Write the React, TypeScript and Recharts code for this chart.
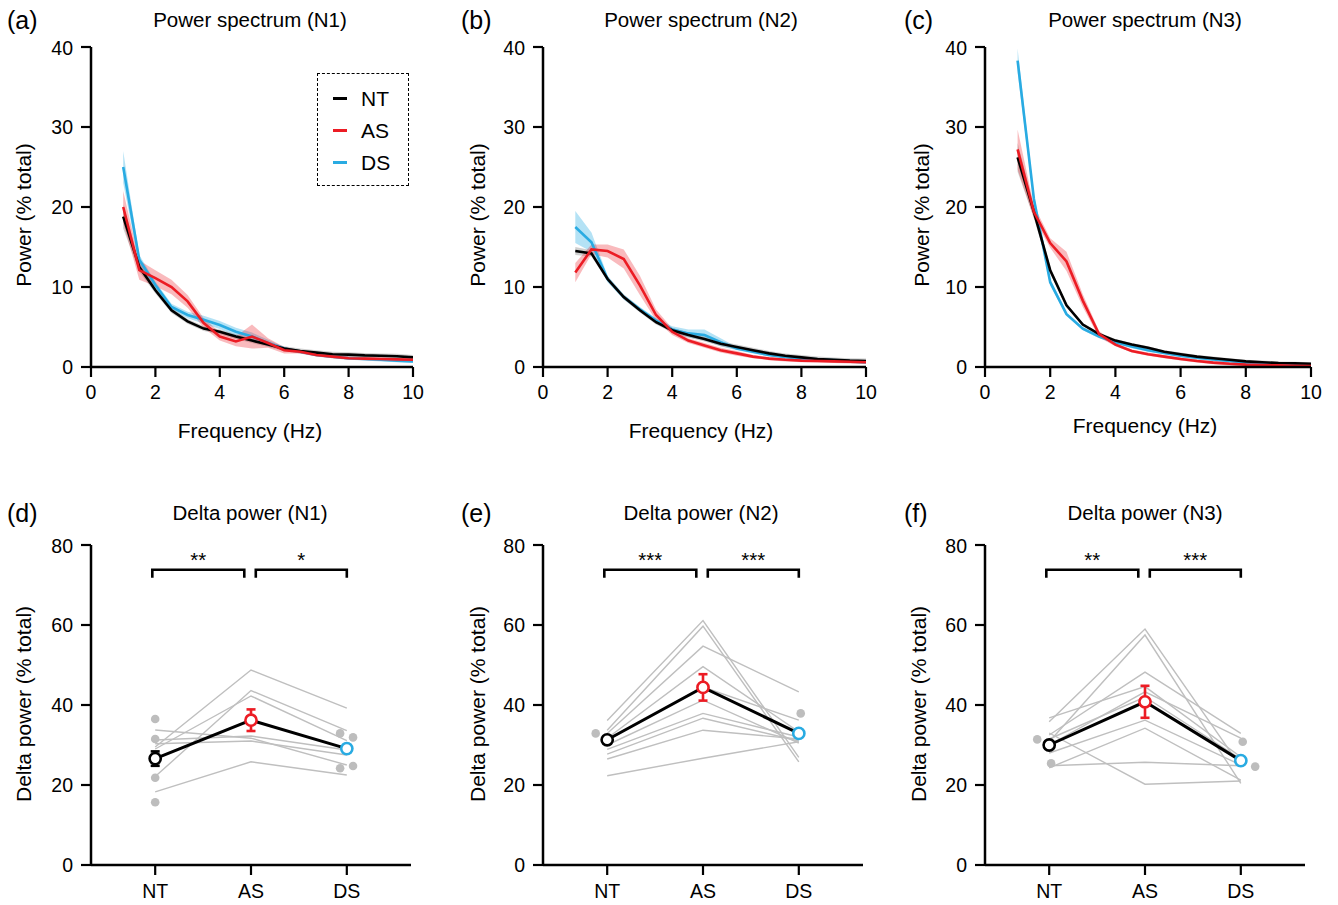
import React from 'react';
import { ComposedChart, Line, Area, XAxis, YAxis, Scatter, ErrorBar } from 'recharts';

const FONT = '"Liberation Sans", Arial, Helvetica, sans-serif';
const RED = '#ec1c24';
const BLUE = '#29abe2';
const GREY = '#bfbfbf';

// ---------- Spectrum data (frequency in Hz, power in % total) ----------
const freqHz = [1, 1.5, 2, 2.5, 3, 3.5, 4, 4.5, 5, 5.5, 6, 6.5, 7, 7.5, 8, 8.5, 9, 9.5, 10];
const freqTicks = [0, 2, 4, 6, 8, 10];
const powerTicks = [0, 10, 20, 30, 40];

const n1NT = [18.8, 12.5, 9.6, 7.1, 5.7, 4.8, 4.4, 3.8, 3.3, 2.8, 2.3, 2.0, 1.8, 1.6, 1.55, 1.45, 1.4, 1.35, 1.2];
const n1AS = [20.0, 12.1, 11.1, 10.0, 8.2, 5.5, 3.8, 3.2, 3.8, 3.0, 2.1, 1.9, 1.5, 1.3, 1.1, 1.05, 1.0, 0.95, 0.9];
const n1DS = [25.0, 13.4, 10.25, 7.5, 6.5, 5.9, 5.25, 4.4, 3.8, 3.0, 2.3, 1.9, 1.5, 1.3, 1.1, 1.0, 0.9, 0.8, 0.7];
const n1NTsem = [1.5, 0.6, 0.4, 0.35, 0.3, 0.3, 0.3, 0.3, 0.3, 0.3, 0.3, 0.3, 0.3, 0.3, 0.3, 0.3, 0.3, 0.3, 0.3];
const n1ASsem = [2.0, 1.2, 1.0, 0.9, 0.8, 0.6, 0.5, 0.6, 1.5, 0.6, 0.4, 0.2, 0.2, 0.2, 0.2, 0.2, 0.2, 0.2, 0.2];
const n1DSsem = [2.0, 0.6, 0.4, 0.4, 0.4, 0.5, 0.5, 0.5, 0.5, 0.4, 0.2, 0.2, 0.2, 0.2, 0.2, 0.2, 0.2, 0.2, 0.2];

const n2NT = [14.5, 14.2, 11.0, 8.75, 7.1, 5.6, 4.6, 4.0, 3.5, 2.9, 2.5, 2.1, 1.7, 1.4, 1.2, 1.0, 0.9, 0.8, 0.75];
const n2AS = [11.8, 14.7, 14.5, 13.5, 10.2, 6.5, 4.4, 3.3, 2.7, 2.1, 1.7, 1.3, 1.05, 0.9, 0.8, 0.75, 0.7, 0.65, 0.6];
const n2DS = [17.5, 15.6, 11.0, 8.75, 7.2, 5.8, 4.7, 4.2, 4.0, 3.1, 2.3, 1.9, 1.5, 1.25, 1.05, 0.95, 0.85, 0.7, 0.6];
const n2NTsem = [0.5, 0.4, 0.3, 0.3, 0.3, 0.3, 0.3, 0.3, 0.3, 0.3, 0.3, 0.3, 0.3, 0.3, 0.3, 0.3, 0.3, 0.3, 0.3];
const n2ASsem = [1.2, 0.6, 0.8, 1.2, 1.2, 0.7, 0.4, 0.3, 0.3, 0.3, 0.3, 0.2, 0.2, 0.2, 0.2, 0.2, 0.2, 0.2, 0.2];
const n2DSsem = [2.0, 1.2, 0.4, 0.3, 0.3, 0.3, 0.4, 0.5, 0.7, 0.5, 0.2, 0.2, 0.2, 0.2, 0.2, 0.2, 0.2, 0.2, 0.2];

const n3NT = [26.2, 19.4, 12.1, 7.7, 5.3, 4.1, 3.3, 2.8, 2.4, 1.9, 1.6, 1.3, 1.1, 0.9, 0.7, 0.6, 0.5, 0.45, 0.4];
const n3AS = [27.2, 19.4, 15.5, 13.2, 8.3, 4.1, 2.8, 2.0, 1.6, 1.3, 1.0, 0.75, 0.55, 0.4, 0.3, 0.25, 0.2, 0.15, 0.13];
const n3DS = [38.3, 21.0, 10.6, 6.6, 4.8, 3.8, 3.1, 2.55, 2.1, 1.75, 1.4, 1.15, 0.95, 0.75, 0.55, 0.45, 0.4, 0.3, 0.2];
const n3NTsem = [1.8, 0.8, 0.4, 0.2, 0.2, 0.2, 0.2, 0.2, 0.2, 0.2, 0.2, 0.2, 0.2, 0.2, 0.2, 0.2, 0.2, 0.2, 0.2];
const n3ASsem = [2.5, 0.8, 0.6, 1.2, 0.8, 0.4, 0.2, 0.2, 0.2, 0.2, 0.2, 0.2, 0.2, 0.2, 0.2, 0.2, 0.2, 0.2, 0.2];
const n3DSsem = [1.5, 0.6, 0.4, 0.2, 0.2, 0.2, 0.2, 0.2, 0.2, 0.2, 0.2, 0.2, 0.2, 0.2, 0.2, 0.2, 0.2, 0.2, 0.2];

// ---------- Delta power data ----------
const groups = ['NT', 'AS', 'DS'];
const groupPos = [1, 2, 3];
const deltaTicks = [0, 20, 40, 60, 80];

// per-subject [NT, AS, DS]
const deltaN1Subjects = [
  [29.5, 48.75, 39.2],
  [22.1, 43.6, 33.6],
  [29.0, 42.25, 31.1],
  [33.75, 31.7, 25.0],
  [31.25, 32.25, 28.75],
  [30.3, 31.0, 27.5],
  [18.3, 25.8, 22.5],
];
const deltaN2Subjects = [
  [36.1, 61.1, 26.9],
  [33.7, 59.7, 25.8],
  [32.9, 54.7, 43.3],
  [31.7, 49.6, 33.3],
  [31.2, 44.5, 36.2],
  [30.0, 41.2, 30.5],
  [28.9, 37.9, 32.0],
  [27.7, 36.7, 31.0],
  [26.5, 33.7, 31.5],
  [22.3, 26.7, 30.8],
];
const deltaN3Subjects = [
  [35.8, 59.0, 24.6],
  [30.8, 57.5, 20.4],
  [32.5, 48.2, 32.9],
  [36.8, 44.6, 27.0],
  [30.0, 43.3, 31.7],
  [31.5, 42.0, 26.5],
  [28.0, 36.2, 25.0],
  [24.3, 34.2, 21.2],
  [24.8, 25.7, 24.8],
  [33.0, 20.2, 21.0],
];

// visible individual dots: [x position, value]
const deltaN1Dots = [[1, 36.5], [1, 31.5], [1, 21.8], [1, 15.7], [2.93, 32.9], [3.065, 31.9], [2.93, 24.2], [3.065, 24.75]];
const deltaN2Dots = [[0.88, 32.9], [3.02, 37.9]];
const deltaN3Dots = [[0.875, 31.4], [1.02, 25.4], [3.02, 30.8], [3.15, 24.6]];

const deltaN1Mean = [26.6, 36.2, 29.1];
const deltaN1Sem = [1.8, 2.7, 0.9];
const deltaN2Mean = [31.3, 44.4, 32.9];
const deltaN2Sem = [0.5, 3.3, 0.8];
const deltaN3Mean = [30.0, 40.8, 26.1];
const deltaN3Sem = [0.6, 4.0, 0.5];

const deltaN1Stars = ['**', '*'];
const deltaN2Stars = ['***', '***'];
const deltaN3Stars = ['**', '***'];

const groupColors = ['#000000', RED, BLUE];

// ---------- helpers ----------
const TICK_FS = 19.5;
const LABEL_FS = 21;
const TITLE_FS = 20.5;
const LETTER_FS = 25;

const tickStyle = { fill: '#000', fontSize: TICK_FS, fontFamily: FONT };
const axisLineStyle = { stroke: '#000', strokeWidth: 2.5 };
const tickLineStyle = { stroke: '#000', strokeWidth: 2.2 };

function Txt({ x, y, size = 18.5, anchor = 'middle', children }: any) {
  const tx = anchor === 'start' ? '0' : '-50%';
  return (
    <div
      style={{
        position: 'absolute',
        left: x,
        top: y,
        transform: `translate(${tx}, -50%)`,
        whiteSpace: 'nowrap',
        fontSize: size,
        fontFamily: FONT,
        lineHeight: 1,
        color: '#000',
      }}
    >
      {children}
    </div>
  );
}

function RotTxt({ x, y, size = LABEL_FS, children }: any) {
  return (
    <div
      style={{
        position: 'absolute',
        left: x,
        top: y,
        transform: 'translate(-50%, -50%) rotate(-90deg)',
        whiteSpace: 'nowrap',
        fontSize: size,
        fontFamily: FONT,
        lineHeight: 1,
        color: '#000',
      }}
    >
      {children}
    </div>
  );
}

function SpectrumPanel({ plotLeft, plotWidth, nt, as, ds, ntE, asE, dsE }: any) {
  const rows = freqHz.map((f, i) => ({
    f,
    nt: nt[i],
    as: as[i],
    ds: ds[i],
    ntB: [nt[i] - ntE[i], nt[i] + ntE[i]],
    asB: [as[i] - asE[i], as[i] + asE[i]],
    dsB: [ds[i] - dsE[i], ds[i] + dsE[i]],
  }));
  return (
    <div style={{ position: 'absolute', left: plotLeft - 60, top: 37 }}>
      <ComposedChart width={plotWidth + 75} height={375} data={rows} margin={{ top: 10, right: 15, left: 10, bottom: 5 }}>
        <XAxis
          dataKey="f"
          type="number"
          domain={[0, 10]}
          ticks={freqTicks}
          axisLine={axisLineStyle}
          tickLine={tickLineStyle}
          tickSize={10}
          tickMargin={8.5}
          tick={tickStyle}
          height={40}
          allowDataOverflow
        />
        <YAxis
          type="number"
          domain={[0, 40]}
          ticks={powerTicks}
          axisLine={axisLineStyle}
          tickLine={tickLineStyle}
          tickSize={10}
          tickMargin={8}
          tick={tickStyle}
          width={50}
          allowDataOverflow
        />
        <Area dataKey="dsB" type="linear" stroke="none" fill={BLUE} fillOpacity={0.35} isAnimationActive={false} dot={false} activeDot={false} />
        <Area dataKey="ntB" type="linear" stroke="none" fill="#8a8a8a" fillOpacity={0.4} isAnimationActive={false} dot={false} activeDot={false} />
        <Area dataKey="asB" type="linear" stroke="none" fill={RED} fillOpacity={0.3} isAnimationActive={false} dot={false} activeDot={false} />
        <Line dataKey="ds" type="linear" stroke={BLUE} strokeWidth={2.6} dot={false} activeDot={false} isAnimationActive={false} />
        <Line dataKey="nt" type="linear" stroke="#000" strokeWidth={2.6} dot={false} activeDot={false} isAnimationActive={false} />
        <Line dataKey="as" type="linear" stroke={RED} strokeWidth={2.6} dot={false} activeDot={false} isAnimationActive={false} />
      </ComposedChart>
    </div>
  );
}

const MeanDot = (color: string) => (props: any) => {
  const { cx, cy } = props;
  return <circle cx={cx} cy={cy} r={5.6} fill="#fff" stroke={color} strokeWidth={2.6} />;
};

const GreyDot = (props: any) => {
  const { cx, cy } = props;
  return <circle cx={cx} cy={cy} r={4.3} fill="#bdbdbd" stroke="none" />;
};

const StarText = (props: any) => {
  const { cx, cy, payload } = props;
  return (
    <text x={cx} y={cy} textAnchor="middle" fontSize={20.5} fontFamily={FONT} fill="#000">
      {payload.label}
    </text>
  );
};

function DeltaPanel({ plotLeft, subjects, dots, mean, sem, stars }: any) {
  const plotWidth = 320;
  const meanRows = groupPos.map((x, i) => ({ x, y: mean[i] }));
  const dotRows = dots.map((d: number[]) => ({ x: d[0], y: d[1] }));
  const bracketL = [
    { x: 0.97, y: 71.8 },
    { x: 0.97, y: 73.8 },
    { x: 1.93, y: 73.8 },
    { x: 1.93, y: 71.8 },
  ];
  const bracketR = [
    { x: 2.05, y: 71.8 },
    { x: 2.05, y: 73.8 },
    { x: 3.0, y: 73.8 },
    { x: 3.0, y: 71.8 },
  ];
  const starRows = [
    { x: 1.45, y: 74.4, label: stars[0] },
    { x: 2.525, y: 74.4, label: stars[1] },
  ];
  return (
    <div style={{ position: 'absolute', left: plotLeft - 60, top: 535 }}>
      <ComposedChart width={plotWidth + 75} height={375} margin={{ top: 10, right: 15, left: 10, bottom: 5 }}>
        <XAxis
          dataKey="x"
          type="number"
          domain={[0.33, 3.67]}
          ticks={groupPos}
          tickFormatter={(v: number) => groups[v - 1]}
          axisLine={axisLineStyle}
          tickLine={tickLineStyle}
          tickSize={10}
          tickMargin={9.5}
          tick={tickStyle}
          height={40}
          allowDataOverflow
        />
        <YAxis
          dataKey="y"
          type="number"
          domain={[0, 80]}
          ticks={deltaTicks}
          axisLine={axisLineStyle}
          tickLine={tickLineStyle}
          tickSize={10}
          tickMargin={8}
          tick={tickStyle}
          width={50}
          allowDataOverflow
        />
        {subjects.map((s: number[], k: number) => (
          <Line
            key={'s' + k}
            data={groupPos.map((x, i) => ({ x, y: s[i] }))}
            dataKey="y"
            type="linear"
            stroke={GREY}
            strokeWidth={1.4}
            dot={false}
            activeDot={false}
            isAnimationActive={false}
          />
        ))}
        <Scatter data={dotRows} dataKey="y" shape={GreyDot} isAnimationActive={false} />
        <Line data={meanRows} dataKey="y" type="linear" stroke="#000" strokeWidth={3} dot={false} activeDot={false} isAnimationActive={false} />
        {groupPos.map((x, i) => (
          <Scatter
            key={'m' + i}
            data={[{ x, y: mean[i], e: sem[i] }]}
            dataKey="y"
            shape={MeanDot(groupColors[i])}
            isAnimationActive={false}
          >
            <ErrorBar dataKey="e" direction="y" width={4.5} stroke={groupColors[i]} strokeWidth={2.6} isAnimationActive={false} />
          </Scatter>
        ))}
        <Line data={bracketL} dataKey="y" type="linear" stroke="#000" strokeWidth={2.6} dot={false} activeDot={false} isAnimationActive={false} />
        <Line data={bracketR} dataKey="y" type="linear" stroke="#000" strokeWidth={2.6} dot={false} activeDot={false} isAnimationActive={false} />
        <Scatter data={starRows} dataKey="y" shape={StarText} isAnimationActive={false} />
      </ComposedChart>
    </div>
  );
}

export default function App() {
  return (
    <div style={{ position: 'absolute', left: 0, top: 0, width: 1338, height: 905, background: '#fff', overflow: 'hidden' }}>
      {/* panel letters */}
      <Txt x={7} y={20} size={LETTER_FS} anchor="start">(a)</Txt>
      <Txt x={461} y={20} size={LETTER_FS} anchor="start">(b)</Txt>
      <Txt x={904} y={20} size={LETTER_FS} anchor="start">(c)</Txt>
      <Txt x={7} y={513} size={LETTER_FS} anchor="start">(d)</Txt>
      <Txt x={461} y={513} size={LETTER_FS} anchor="start">(e)</Txt>
      <Txt x={904} y={513} size={LETTER_FS} anchor="start">(f)</Txt>

      {/* titles */}
      <Txt x={250} y={20} size={TITLE_FS}>Power spectrum (N1)</Txt>
      <Txt x={701} y={20} size={TITLE_FS}>Power spectrum (N2)</Txt>
      <Txt x={1145} y={20} size={TITLE_FS}>Power spectrum (N3)</Txt>
      <Txt x={250} y={513} size={TITLE_FS}>Delta power (N1)</Txt>
      <Txt x={701} y={513} size={TITLE_FS}>Delta power (N2)</Txt>
      <Txt x={1145} y={513} size={TITLE_FS}>Delta power (N3)</Txt>

      {/* x labels */}
      <Txt x={250} y={430} size={LABEL_FS}>Frequency (Hz)</Txt>
      <Txt x={701} y={430} size={LABEL_FS}>Frequency (Hz)</Txt>
      <Txt x={1145} y={425} size={LABEL_FS}>Frequency (Hz)</Txt>

      {/* y labels */}
      <RotTxt x={23} y={215}>Power (% total)</RotTxt>
      <RotTxt x={477} y={215}>Power (% total)</RotTxt>
      <RotTxt x={921} y={215}>Power (% total)</RotTxt>
      <RotTxt x={23} y={704}>Delta power (% total)</RotTxt>
      <RotTxt x={477} y={704}>Delta power (% total)</RotTxt>
      <RotTxt x={918} y={704}>Delta power (% total)</RotTxt>

      <SpectrumPanel plotLeft={91} plotWidth={322} nt={n1NT} as={n1AS} ds={n1DS} ntE={n1NTsem} asE={n1ASsem} dsE={n1DSsem} />
      <SpectrumPanel plotLeft={543} plotWidth={323} nt={n2NT} as={n2AS} ds={n2DS} ntE={n2NTsem} asE={n2ASsem} dsE={n2DSsem} />
      <SpectrumPanel plotLeft={985} plotWidth={326} nt={n3NT} as={n3AS} ds={n3DS} ntE={n3NTsem} asE={n3ASsem} dsE={n3DSsem} />

      <DeltaPanel plotLeft={91} subjects={deltaN1Subjects} dots={deltaN1Dots} mean={deltaN1Mean} sem={deltaN1Sem} stars={deltaN1Stars} />
      <DeltaPanel plotLeft={543} subjects={deltaN2Subjects} dots={deltaN2Dots} mean={deltaN2Mean} sem={deltaN2Sem} stars={deltaN2Stars} />
      <DeltaPanel plotLeft={985} subjects={deltaN3Subjects} dots={deltaN3Dots} mean={deltaN3Mean} sem={deltaN3Sem} stars={deltaN3Stars} />

      {/* legend for panel (a) */}
      <div
        style={{
          position: 'absolute',
          left: 317,
          top: 73,
          width: 90,
          height: 111,
          border: '1.6px dashed #000',
          fontFamily: FONT,
        }}
      >
        {groups.map((g, i) => (
          <div key={g} style={{ position: 'absolute', left: 15, top: 12 + i * 32, height: 24, display: 'flex', alignItems: 'center' }}>
            <div style={{ width: 14, height: 3, background: groupColors[i] }} />
            <span style={{ marginLeft: 14, fontSize: 21, lineHeight: 1 }}>{g}</span>
          </div>
        ))}
      </div>
    </div>
  );
}
